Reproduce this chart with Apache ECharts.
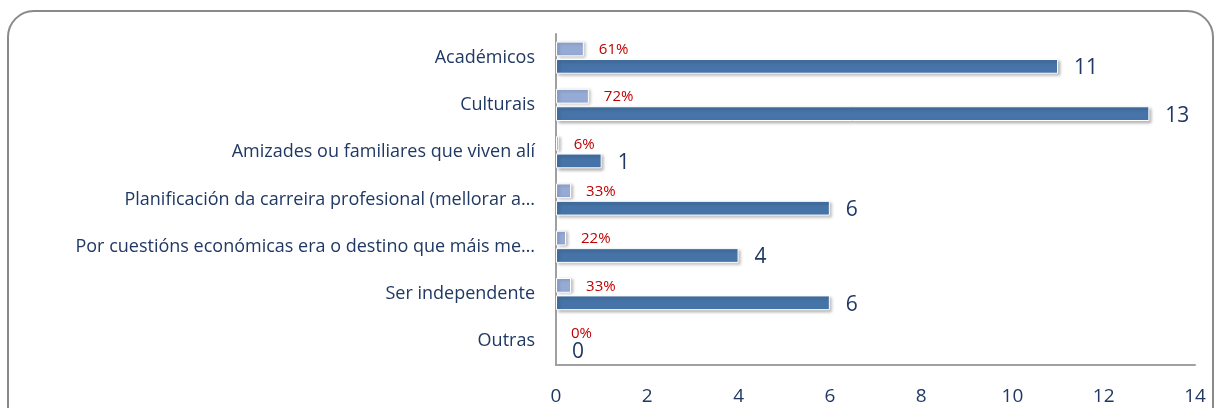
<!DOCTYPE html>
<html><head><meta charset="utf-8">
<script src="https://cdn.jsdelivr.net/npm/echarts@6/dist/echarts.min.js"></script>
<style>html,body{margin:0;padding:0;background:#fff}#c{width:1215px;height:408px}</style>
</head><body><div id="c"></div>
<script>
const categories = ["Académicos","Culturais","Amizades ou familiares que viven alí","Planificación da carreira profesional (mellorar a…","Por cuestións económicas era o destino que máis me…","Ser independente","Outras"];
const counts = [11,13,1,6,4,6,0];
const shares = [0.61,0.72,0.06,0.33,0.22,0.33,0];
const xTicks = [0,2,4,6,8,10,12,14];

const chart = echarts.init(document.getElementById('c'), null, {renderer:'canvas'});
const navy = '#1f3864';
const F = 'Open Sans';
const noShadow = {borderWidth:0,shadowBlur:0,shadowOffsetX:0,shadowOffsetY:0};
const mk = arr => arr.map(v => v === 0 ? {value:v,itemStyle:noShadow} : v);
chart.setOption({
  animation:false,
  backgroundColor:'#fff',
  textStyle:{fontFamily:F},
  graphic:[{type:'rect',shape:{x:8,y:11,width:1205,height:430,r:26},style:{fill:'none',stroke:'#8a8a8a',lineWidth:2},z:-1}],
  grid:{left:556,right:20,top:34,bottom:43,containLabel:false},
  xAxis:{type:'value',min:xTicks[0],max:xTicks[xTicks.length-1],interval:2,
    axisLine:{show:true,lineStyle:{color:'#a0a0a0',width:2}},axisTick:{show:false},splitLine:{show:false},
    axisLabel:{color:navy,fontSize:19,margin:22,fontFamily:F}},
  yAxis:{type:'category',inverse:true,data:categories,
    axisLine:{show:true,lineStyle:{color:'#a0a0a0',width:2}},axisTick:{show:false},
    axisLabel:{color:navy,fontSize:18,margin:21,fontFamily:F}},
  series:[
    {name:'pct',type:'bar',data:mk(shares),barGap:'18%',barCategoryGap:'32%',
      itemStyle:{color:'#95aad4',borderColor:'#ffffff',borderWidth:1,shadowColor:'rgba(0,0,0,0.25)',shadowBlur:3,shadowOffsetX:2,shadowOffsetY:1},
      label:{show:true,position:'right',distance:15,color:'#c00000',fontSize:15,fontFamily:F,
        formatter:p=>Math.round(p.value*100)+'%',offset:[0,1]}},
    {name:'n',type:'bar',data:mk(counts),
      itemStyle:{color:'#4674a8',borderColor:'#ffffff',borderWidth:1,shadowColor:'rgba(0,0,0,0.3)',shadowBlur:3,shadowOffsetX:2,shadowOffsetY:2},
      label:{show:true,position:'right',distance:16,color:navy,fontSize:21,fontFamily:F,offset:[0,2]}}
  ]
});
</script></body></html>
